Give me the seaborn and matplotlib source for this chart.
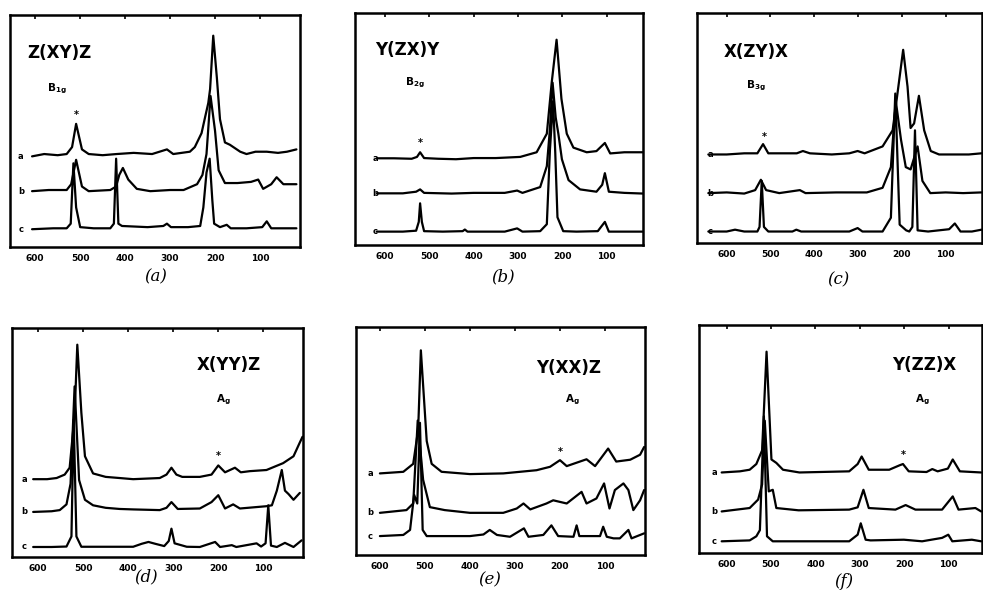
import matplotlib
matplotlib.use("Agg")
import matplotlib.pyplot as plt
import seaborn as sns

# ---- data (wavenumber cm-1, relative height in panel) ----

# (a) Z(XY)Z
p1_a_wn = [607, 580, 550, 530, 518, 509, 496, 481, 450, 419, 381, 340, 307, 293, 256, 245, 230, 222, 215, 211, 204, 196, 189, 178, 167, 144, 130, 110, 85, 60, 40, 19]
p1_a_in = [.39, .40, .395, .40, .43, .53, .42, .40, .395, .40, .405, .40, .42, .40, .41, .43, .49, .56, .62, .68, .91, .73, .55, .45, .44, .41, .40, .41, .41, .405, .41, .42]
p1_b_wn = [607, 570, 530, 520, 509, 496, 481, 433, 420, 413, 405, 393, 374, 344, 300, 270, 240, 228, 219, 210, 200, 192, 178, 150, 120, 104, 93, 75, 63, 48, 19]
p1_b_in = [.24, .245, .245, .27, .375, .26, .24, .245, .26, .31, .34, .29, .25, .24, .245, .245, .27, .31, .40, .65, .50, .33, .275, .275, .28, .29, .25, .27, .30, .27, .27]
p1_c_wn = [607, 560, 530, 521, 515, 509, 500, 470, 433, 425, 420, 415, 407, 350, 315, 307, 298, 260, 233, 226, 219, 212, 206, 202, 189, 174, 165, 130, 95, 85, 75, 40, 19]
p1_c_in = [.076, .08, .08, .10, .36, .17, .085, .08, .08, .10, .38, .10, .09, .085, .09, .10, .085, .085, .09, .17, .32, .38, .20, .10, .085, .095, .08, .08, .085, .11, .08, .08, .08]

# (b) Y(ZX)Y
p2_a_wn = [619, 580, 540, 528, 521, 512, 480, 440, 400, 350, 295, 258, 235, 224, 213, 202, 190, 175, 145, 123, 104, 92, 60, 17]
p2_a_in = [.374, .374, .372, .38, .40, .375, .372, .37, .375, .375, .38, .40, .48, .70, .885, .63, .48, .42, .40, .405, .44, .395, .40, .40]
p2_b_wn = [619, 560, 530, 521, 512, 450, 400, 330, 302, 290, 250, 235, 228, 222, 215, 209, 201, 186, 160, 123, 110, 104, 95, 60, 17]
p2_b_in = [.223, .223, .23, .24, .225, .222, .225, .225, .235, .225, .25, .34, .50, .70, .55, .48, .37, .28, .24, .23, .26, .31, .23, .225, .222]
p2_c_wn = [619, 560, 530, 524, 521, 517, 512, 470, 425, 420, 414, 330, 302, 290, 250, 235, 228, 221, 216, 211, 198, 168, 120, 104, 95, 60, 17]
p2_c_in = [.058, .058, .062, .10, .18, .10, .06, .058, .06, .067, .058, .058, .072, .058, .06, .09, .41, .62, .40, .12, .06, .058, .06, .10, .058, .058, .058]

# (c) X(ZY)X
p3_a_wn = [642, 600, 560, 530, 517, 505, 470, 440, 426, 410, 360, 320, 301, 285, 244, 221, 210, 197, 187, 180, 172, 161, 149, 134, 115, 80, 47, 18]
p3_a_in = [.385, .385, .39, .39, .43, .39, .39, .39, .40, .39, .385, .39, .40, .39, .42, .49, .65, .84, .68, .50, .52, .64, .49, .40, .385, .385, .385, .39]
p3_b_wn = [642, 600, 560, 535, 522, 510, 480, 433, 420, 350, 280, 244, 225, 214, 202, 191, 180, 164, 153, 135, 100, 60, 18]
p3_b_in = [.217, .22, .215, .23, .275, .23, .217, .23, .217, .22, .22, .24, .33, .62, .45, .33, .32, .42, .27, .217, .22, .217, .22]
p3_c_wn = [642, 600, 581, 560, 530, 525, 520, 515, 505, 450, 441, 430, 320, 301, 290, 244, 225, 215, 205, 190, 183, 176, 170, 164, 140, 92, 79, 66, 40, 18]
p3_c_in = [.05, .05, .058, .05, .05, .07, .27, .07, .05, .05, .058, .05, .05, .065, .05, .05, .11, .65, .08, .055, .05, .07, .49, .055, .05, .06, .085, .05, .05, .058]

# (d) X(YY)Z
p4_a_wn = [611, 580, 559, 541, 530, 519, 513, 504, 496, 478, 450, 419, 389, 330, 315, 304, 293, 280, 241, 215, 200, 185, 163, 150, 130, 93, 56, 33, 19, 13]
p4_a_in = [.34, .34, .345, .36, .39, .62, .927, .63, .44, .365, .35, .345, .34, .345, .36, .39, .36, .35, .35, .36, .40, .37, .39, .37, .375, .38, .41, .44, .50, .525]
p4_b_wn = [611, 570, 552, 537, 528, 519, 509, 496, 478, 450, 419, 389, 330, 315, 304, 290, 241, 215, 200, 185, 167, 152, 93, 81, 70, 59, 52, 44, 33, 19]
p4_b_in = [.197, .20, .205, .23, .32, .745, .336, .25, .226, .215, .21, .208, .205, .215, .24, .21, .212, .24, .27, .212, .23, .212, .222, .226, .29, .38, .29, .275, .25, .28]
p4_c_wn = [611, 570, 537, 526, 521, 515, 504, 450, 389, 370, 355, 340, 320, 310, 304, 297, 270, 241, 207, 196, 170, 160, 115, 105, 95, 89, 83, 70, 52, 33, 15]
p4_c_in = [.044, .044, .046, .09, .60, .09, .045, .045, .045, .058, .066, .058, .048, .07, .124, .06, .045, .044, .066, .044, .052, .044, .06, .046, .06, .226, .05, .044, .062, .044, .073]

# (e) Y(XX)Z
p5_a_wn = [600, 548, 526, 515, 509, 496, 485, 463, 400, 326, 252, 222, 200, 185, 141, 122, 93, 75, 44, 22, 13]
p5_a_in = [.358, .365, .40, .55, .898, .50, .40, .365, .355, .358, .372, .387, .416, .39, .42, .39, .467, .41, .418, .44, .474]
p5_b_wn = [600, 541, 526, 516, 504, 489, 456, 400, 326, 296, 281, 266, 230, 215, 185, 152, 141, 119, 102, 90, 78, 59, 48, 37, 22, 13]
p5_b_in = [.185, .197, .226, .59, .33, .21, .197, .185, .185, .204, .226, .20, .226, .24, .226, .277, .226, .248, .314, .204, .285, .314, .285, .197, .24, .285]
p5_c_wn = [600, 548, 533, 524, 517, 511, 505, 496, 400, 370, 356, 340, 311, 280, 270, 237, 219, 204, 170, 163, 157, 111, 104, 96, 81, 67, 48, 41, 13]
p5_c_in = [.083, .088, .11, .264, .226, .58, .11, .083, .083, .09, .11, .088, .08, .117, .08, .088, .13, .083, .08, .13, .083, .083, .124, .08, .073, .073, .11, .073, .095]

# (f) Y(ZZ)X
p6_a_wn = [611, 570, 548, 533, 520, 510, 499, 488, 473, 436, 324, 305, 296, 280, 234, 210, 203, 190, 150, 137, 125, 102, 91, 75, 27]
p6_a_in = [.353, .358, .365, .39, .45, .883, .41, .395, .365, .353, .358, .39, .423, .365, .365, .385, .39, .358, .355, .368, .358, .37, .41, .358, .353]
p6_b_wn = [611, 548, 529, 520, 514, 505, 496, 488, 438, 324, 305, 292, 280, 220, 197, 175, 115, 91, 78, 40, 27]
p6_b_in = [.182, .197, .234, .30, .58, .27, .277, .197, .187, .19, .20, .277, .197, .19, .21, .19, .19, .248, .19, .197, .182]
p6_c_wn = [611, 548, 533, 525, 516, 509, 496, 324, 305, 298, 287, 276, 201, 160, 115, 101, 92, 48, 27]
p6_c_in = [.051, .055, .073, .10, .60, .073, .051, .051, .08, .13, .058, .055, .058, .051, .066, .08, .051, .058, .051]

titles = ["Z(XY)Z", "Y(ZX)Y", "X(ZY)X", "X(YY)Z", "Y(XX)Z", "Y(ZZ)X"]
modes = [r"$\mathbf{B_{1g}}$", r"$\mathbf{B_{2g}}$", r"$\mathbf{B_{3g}}$",
         r"$\mathbf{A_{g}}$", r"$\mathbf{A_{g}}$", r"$\mathbf{A_{g}}$"]
captions = ["(a)", "(b)", "(c)", "(d)", "(e)", "(f)"]
ticks = [600, 500, 400, 300, 200, 100]

spectra = [
    [(p1_a_wn, p1_a_in), (p1_b_wn, p1_b_in), (p1_c_wn, p1_c_in)],
    [(p2_a_wn, p2_a_in), (p2_b_wn, p2_b_in), (p2_c_wn, p2_c_in)],
    [(p3_a_wn, p3_a_in), (p3_b_wn, p3_b_in), (p3_c_wn, p3_c_in)],
    [(p4_a_wn, p4_a_in), (p4_b_wn, p4_b_in), (p4_c_wn, p4_c_in)],
    [(p5_a_wn, p5_a_in), (p5_b_wn, p5_b_in), (p5_c_wn, p5_c_in)],
    [(p6_a_wn, p6_a_in), (p6_b_wn, p6_b_in), (p6_c_wn, p6_c_in)],
]

# layout (figure fractions), x-limits and label positions per panel
boxes = [[0.0102, 0.583, 0.295, 0.392], [0.3611, 0.586, 0.293, 0.392], [0.709, 0.5895, 0.2895, 0.3885],
         [0.0122, 0.059, 0.296, 0.387], [0.3622, 0.0625, 0.294, 0.385], [0.7111, 0.066, 0.2875, 0.385]]
xlims = [(656, 11), (668, 18), (668, 18), (658, 12), (653, 11), (662, 26)]
title_pos = [(618, .835), (623, .84), (608, .83), (248, .84), (252, .82), (227, .825)]
mode_pos = [(574, .68), (555, .70), (555, .685), (204, .686), (189, .68), (175, .67)]
star_pos = [(509, .57), (521, .44), (513, .46), (200, .44), (200, .45), (203, .43)]
label_x = [632, 622, 638, 630, 622, 628]
caption_pos = [(.158, .532), (.512, .532), (.8525, .527), (.149, .025), (.498, .02), (.858, .017)]

sns.set_style("white", rc={"text.color": "black", "xtick.color": "black", "axes.edgecolor": "black"})
plt.rcParams['font.family'] = ['DejaVu Sans']

fig = plt.figure(figsize=(9.83, 5.92), dpi=100)

for i in range(6):
    ax = fig.add_axes(boxes[i])
    for (wn, inten), lab in zip(spectra[i], ["a", "b", "c"]):
        sns.lineplot(x=wn, y=inten, ax=ax, color="black", lw=1.6, sort=False, estimator=None)
        ax.text(label_x[i], inten[0], lab, fontsize=6, fontweight="bold", ha="center", va="center")
    ax.set_xlim(xlims[i])
    ax.set_ylim(0, 1)
    ax.set_xticks(ticks)
    ax.set_xticklabels([str(t) for t in ticks], fontsize=6.5, fontweight="bold")
    ax.set_yticks([])
    ax.tick_params(axis="x", direction="in", top=True, length=3, width=1.2, pad=5, colors="black")
    for s in ax.spines.values():
        s.set_linewidth(1.8)
        s.set_color("black")
    ax.text(title_pos[i][0], title_pos[i][1], titles[i], fontsize=12, fontweight="bold", ha="left", va="center")
    ax.text(mode_pos[i][0], mode_pos[i][1], modes[i], fontsize=7.5, ha="left", va="center")
    ax.text(star_pos[i][0], star_pos[i][1], "*", fontsize=7, fontweight="bold", ha="center", va="center")
    fig.text(caption_pos[i][0], caption_pos[i][1], captions[i], fontsize=12, family="DejaVu Serif",
             style="italic", ha="center", va="center")

fig.savefig("out.png", dpi=100)
